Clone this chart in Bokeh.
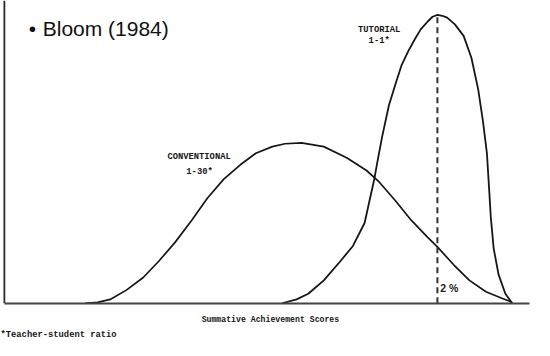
from bokeh.plotting import figure
from bokeh.models import Range1d, LinearAxis, FixedTicker, Label
from bokeh.embed import file_html
from bokeh.resources import INLINE

# Summative achievement score (x) and relative frequency (y)
conv_x = [83, 96, 109, 126, 143, 159, 176, 193, 209, 226, 243, 259, 276, 289, 306,
          329, 353, 373, 386, 403, 419, 436, 446, 463, 479, 496, 513, 523]
conv_y = [0, 1, 4, 14, 27, 44, 64, 87, 110, 130, 145, 157, 164, 167, 168,
          164, 152, 139, 127, 107, 87, 69, 59, 40, 24, 12, 5, 1]

tut_x = [286, 301, 313, 329, 346, 359, 371, 376, 381, 384, 389, 396, 403, 409, 416,
         423, 429, 436, 441, 446, 451, 456, 464, 473, 481, 488, 493, 497, 499, 501,
         504, 509, 516, 523]
tut_y = [0, 4, 10, 24, 44, 60, 84, 107, 130, 147, 174, 207, 230, 249, 264,
         277, 287, 295, 300, 302, 301, 299, 292, 280, 257, 224, 190, 157, 124, 90,
         57, 30, 10, 0]

# mode of tutorial distribution (dashed marker)
mode_x = [446]
mode_y = [302]

title_text = "Bloom (1984)"
tut_label = ["TUTORIAL", "1-1*"]
conv_label = ["CONVENTIONAL", "1-30*"]
pct_label = "2 %"
x_label = "Summative Achievement Scores"
footnote = "*Teacher-student ratio"

INK = "#161616"
MONO = "Liberation Mono"

p = figure(width=534, height=340, output_backend="svg", toolbar_location=None,
           x_axis_location=None, y_axis_location=None,
           x_range=Range1d(-4, 546), y_range=Range1d(-39, 317),
           min_border=0, outline_line_color=None)
p.grid.visible = False

xax = LinearAxis(fixed_location=0, bounds=(0, 541), ticker=FixedTicker(ticks=[]),
                 axis_line_color="#444444", axis_line_width=2,
                 major_tick_line_color=None, minor_tick_line_color=None,
                 major_label_text_font_size="0px")
p.add_layout(xax, "below")

# vertical (frequency) axis line: from the origin up to the top of the y range
p.segment(x0=[0], y0=[0], x1=[0], y1=[p.y_range.end], line_color="#2a2a2a",
          line_width=1.8)

p.line(conv_x, conv_y, line_color=INK, line_width=1.7)
p.line(tut_x, tut_y, line_color=INK, line_width=1.8)
p.segment(x0=mode_x, y0=[0], x1=mode_x, y1=mode_y, line_color="#333333",
          line_width=2, line_dash="6 4")

def lab(x, y, t, size, font=MONO, style="bold", align="center", base="middle", color=INK):
    p.add_layout(Label(x=x, y=y, text=t, text_font=font, text_font_size=size,
                       text_font_style=style, text_align=align, text_baseline=base,
                       text_color=color))

lab(386, 286.5, tut_label[0], "8.8px")
lab(386, 275, tut_label[1], "8.8px")
lab(200.5, 153, conv_label[0], "8.8px")
lab(201, 137, conv_label[1], "8.8px")
lab(449, 16, pct_label, "10.5px", font="Liberation Sans", align="left", color="#222222")
lab(274, -16.5, x_label, "8.2px")
lab(-4, -33.5, footnote, "8.8px", align="left")

lab(25, 288, "\u2022", "21px", font="Liberation Sans", style="normal", align="left",
    base="alphabetic", color="#111111")
lab(39.5, 288, title_text, "21px", font="Liberation Sans", style="normal", align="left",
    base="alphabetic", color="#111111")

open("out.html", "w").write(file_html(p, INLINE))
